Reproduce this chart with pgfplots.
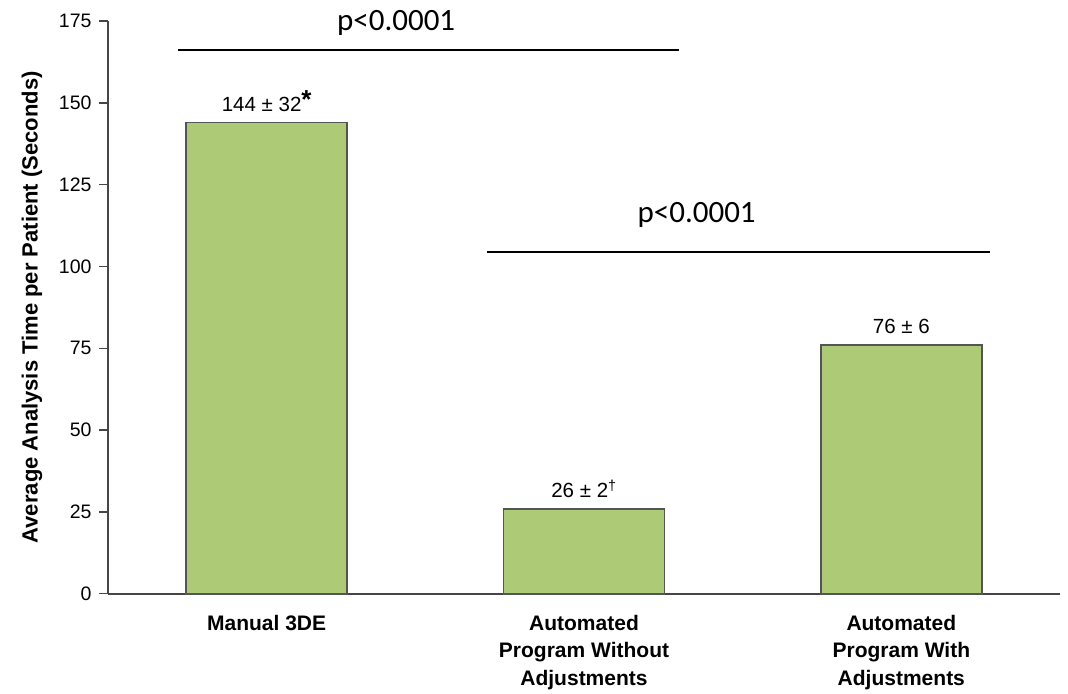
\documentclass[border=0pt]{standalone}
\usepackage{pgfplots}
\pgfplotsset{compat=1.18}
\usepackage{fontspec}
\setmainfont{Liberation Sans}
\newfontfamily\calibrilike{Carlito}

\definecolor{barfill}{RGB}{173,203,118}
\definecolor{baredge}{RGB}{85,85,85}
\definecolor{axisgray}{RGB}{70,70,70}

\begin{document}
\begin{tikzpicture}
\begin{axis}[
  at={(0,0)}, anchor=south west,
  scale only axis,
  width=952pt, height=572.7pt,
  xmin=-0.5, xmax=2.5,
  ymin=0, ymax=175,
  ytick={0,25,50,75,100,125,150,175},
  xtick={0,1,2},
  xticklabels={Manual 3DE,
               Automated\\Program Without\\Adjustments,
               Automated\\Program With\\Adjustments},
  axis lines*=left,
  axis line style={draw=axisgray, line width=1.8pt},
  ytick style={draw=axisgray, line width=1.5pt},
  xtick style={draw=none},
  tick align=outside,
  major tick length=9pt,
  /pgf/number format/assume math mode=true,
  yticklabel style={font=\fontsize{19.5}{22}\selectfont, text=black, xshift=-4pt},
  xticklabel style={font=\fontsize{21}{27.5}\selectfont\bfseries, align=center,
                    anchor=north, yshift=-9pt},
  ylabel={Average Analysis Time per Patient (Seconds)},
  every axis y label/.style={at={(axis description cs:-0.0798,0.5)},
                             rotate=90, anchor=center,
                             font=\fontsize{22}{26}\selectfont\bfseries},
  clip=false,
]
\addplot[ybar, bar width=161pt, fill=barfill, draw=baredge, line width=1.8pt]
  coordinates {(0,144) (1,26) (2,76)};

% value labels above the bars
\node[anchor=base, font=\fontsize{20.5}{24}\selectfont]
  at (axis cs:0,144) [yshift=11pt]
  {144 ± 32\raisebox{3pt}{\fontsize{26}{26}\selectfont\bfseries *}};
\node[anchor=base, font=\fontsize{20.5}{24}\selectfont]
  at (axis cs:1,26) [yshift=11pt] {26 ± 2\textsuperscript{†}};
\node[anchor=base, font=\fontsize{20.5}{24}\selectfont]
  at (axis cs:2,76) [yshift=11pt] {76 ± 6};

% significance brackets
\draw[black, line width=2.6pt] (axis cs:-0.279,166.1) -- (axis cs:1.300,166.1);
\node[anchor=base, font=\calibrilike\fontsize{31}{36}\selectfont]
  at (axis cs:0.408,172.2) {p<0.0001};
\draw[black, line width=2.6pt] (axis cs:0.695,104.4) -- (axis cs:2.280,104.4);
\node[anchor=base, font=\calibrilike\fontsize{31}{36}\selectfont]
  at (axis cs:1.355,113.3) {p<0.0001};
\end{axis}
\useasboundingbox (-108pt,-96.3pt) rectangle (960pt,593.7pt);
\end{tikzpicture}
\end{document}
